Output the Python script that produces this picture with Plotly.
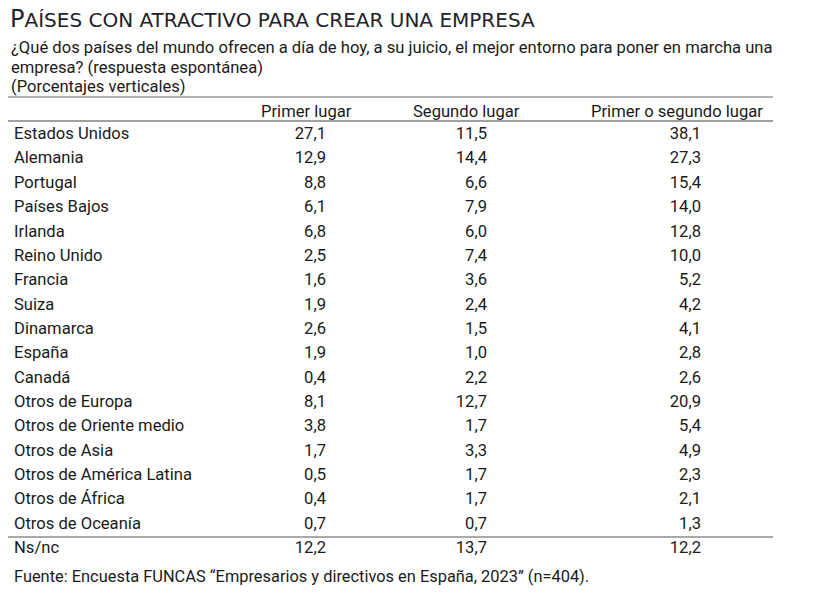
import plotly.graph_objects as go

# -----------------------
# DATA
# -----------------------
paises = [
    "Estados Unidos", "Alemania", "Portugal", "Países Bajos", "Irlanda",
    "Reino Unido", "Francia", "Suiza", "Dinamarca", "España", "Canadá",
    "Otros de Europa", "Otros de Oriente medio", "Otros de Asia",
    "Otros de América Latina", "Otros de África", "Otros de Oceanía", "Ns/nc",
]
primer = [27.1, 12.9, 8.8, 6.1, 6.8, 2.5, 1.6, 1.9, 2.6, 1.9, 0.4,
          8.1, 3.8, 1.7, 0.5, 0.4, 0.7, 12.2]
segundo = [11.5, 14.4, 6.6, 7.9, 6.0, 7.4, 3.6, 2.4, 1.5, 1.0, 2.2,
           12.7, 1.7, 3.3, 1.7, 1.7, 0.7, 13.7]
primer_o_segundo = [38.1, 27.3, 15.4, 14.0, 12.8, 10.0, 5.2, 4.2, 4.1, 2.8, 2.6,
                    20.9, 5.4, 4.9, 2.3, 2.1, 1.3, 12.2]
columnas = ["Primer lugar", "Segundo lugar", "Primer o segundo lugar"]

FONT = "Roboto"
TXT = "#1a1a1a"
SIZE = 16.6

# page body has an 8px margin, figure is drawn inside it
W, H, OFF = 806, 586, 8


def px(x):
    return (x - OFF) / W


def py(y):
    return 1 - (y - OFF) / H


def fmt(v):
    return f"{v:.1f}".replace(".", ",")


fig = go.Figure()

# country labels
fig.add_trace(go.Scatter(
    x=[14] * len(paises), y=paises, mode="text", text=paises,
    textposition="middle right",
    textfont=dict(family=FONT, size=SIZE, color=TXT),
    hoverinfo="skip",
))

# value columns (right aligned)
for xr, vals in zip([326, 487, 701], [primer, segundo, primer_o_segundo]):
    fig.add_trace(go.Scatter(
        x=[xr] * len(paises), y=paises, mode="text",
        text=[fmt(v) for v in vals], textposition="middle left",
        textfont=dict(family=FONT, size=SIZE, color=TXT),
        hoverinfo="skip",
    ))

# -----------------------
# HEADERS / TITLES
# -----------------------
for xc, name in zip([306, 466, 677], columnas):
    fig.add_annotation(x=xc, y=-0.95, xref="x", yref="y", text=name,
                       showarrow=False, xanchor="center", yanchor="middle",
                       font=dict(family=FONT, size=SIZE, color=TXT))

title = ("<span style='font-size:24px'>P</span>AÍSES CON ATRACTIVO PARA CREAR "
         "UNA EMPRESA")
fig.add_annotation(x=px(8), y=py(35), xref="paper", yref="paper",
                   text=title, showarrow=False, xanchor="left", yanchor="bottom",
                   font=dict(family="DejaVu Sans", size=20, color="#22222c"))

subtitulo = [
    "¿Qué dos países del mundo ofrecen a día de hoy, a su juicio, el mejor "
    "entorno para poner en marcha una",
    "empresa? (respuesta espontánea)",
    "(Porcentajes verticales)",
]
for yc, linea in zip([47.5, 67, 86.5], subtitulo):
    fig.add_annotation(x=px(9), y=py(yc), xref="paper", yref="paper",
                       text=linea, showarrow=False, xanchor="left",
                       yanchor="middle",
                       font=dict(family=FONT, size=SIZE, color=TXT))

fig.add_annotation(x=px(12), y=py(576), xref="paper", yref="paper",
                   text="Fuente: Encuesta FUNCAS “Empresarios y directivos en España, 2023” (n=404).",
                   showarrow=False, xanchor="left", yanchor="middle",
                   font=dict(family=FONT, size=16.4, color=TXT))

# -----------------------
# RULES
# -----------------------
for yp, col, w in [(97, "#6a6a6a", 1.2), (121, "#a0a0a0", 2), (537, "#555555", 1.2)]:
    fig.add_shape(type="line", xref="paper", yref="paper",
                  x0=px(8), x1=px(773), y0=py(yp), y1=py(yp),
                  line=dict(color=col, width=w))

# -----------------------
# LAYOUT
# -----------------------
# axis ranges chosen so that data units match page pixels
r0 = (OFF - 135) / 24.35
r1 = (OFF + H - 135) / 24.35
fig.update_layout(
    width=W, height=H,
    margin=dict(l=0, r=0, t=0, b=0),
    paper_bgcolor="white", plot_bgcolor="white",
    showlegend=False,
    xaxis=dict(range=[OFF, OFF + W], visible=False, fixedrange=True),
    yaxis=dict(type="category", categoryorder="array", categoryarray=paises,
               range=[r1, r0], visible=False, fixedrange=True),
)

fig.write_html("out.html")
